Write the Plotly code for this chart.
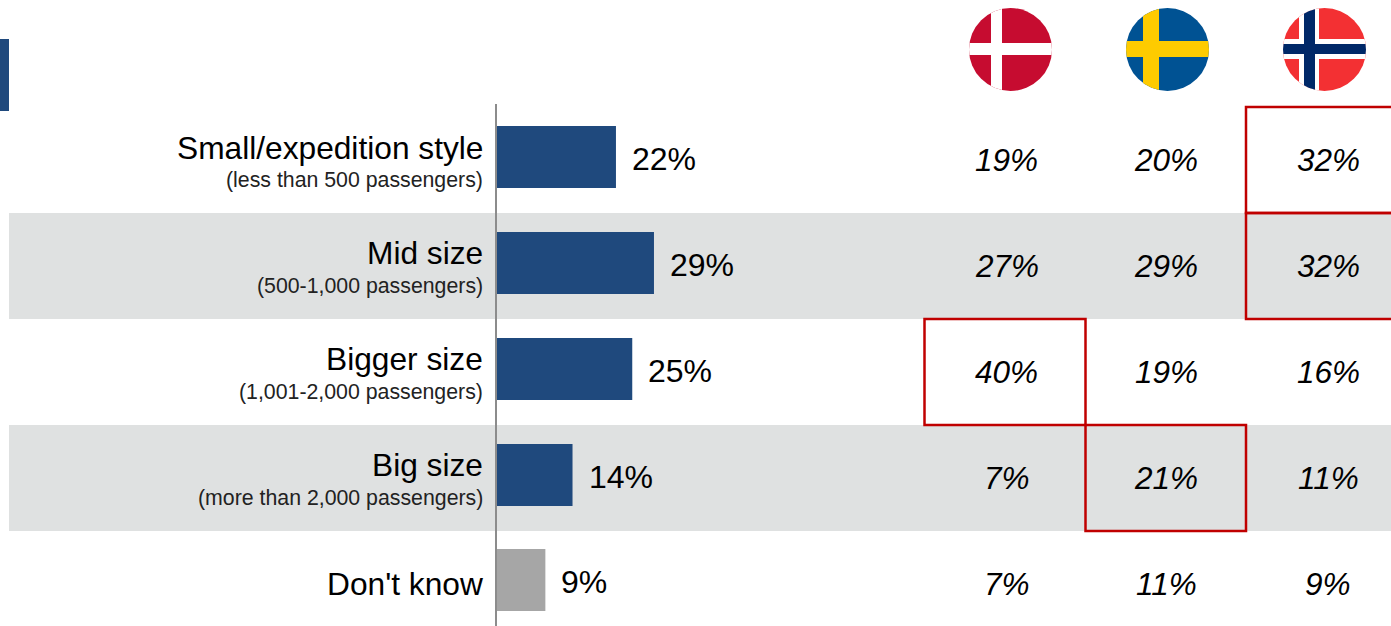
import base64
import plotly.graph_objects as go

W, H = 1391, 626
FONT = "Liberation Sans"

categories = ["Small/expedition style", "Mid size", "Bigger size", "Big size", "Don't know"]
subtitles = ["(less than 500 passengers)", "(500-1,000 passengers)", "(1,001-2,000 passengers)",
             "(more than 2,000 passengers)", ""]
total = [22, 29, 25, 14, 9]
denmark = [19, 27, 40, 7, 7]
sweden = [20, 29, 19, 21, 11]
norway = [32, 32, 16, 11, 9]
bar_colors = ["#1F497D", "#1F497D", "#1F497D", "#1F497D", "#A6A6A6"]

# Pixel geometry of the page
X0, PX_PER_PCT = 496.5, 5.43
ROW_PX, BAR_Y0 = 106, 157
ys = [0, 1, 2, 3, 3.99]


def px(x):
    return x / W


def py(y):
    return 1 - y / H


def flag(body, size=83):
    svg = (f'<svg xmlns="http://www.w3.org/2000/svg" width="{size}" height="{size}" viewBox="0 0 83 83">'
           f'<defs><clipPath id="c"><circle cx="41.5" cy="41.5" r="41.5"/></clipPath></defs>'
           f'<g clip-path="url(#c)">{body}</g></svg>')
    return "data:image/svg+xml;base64," + base64.b64encode(svg.encode()).decode()


def rect(x, y, w, h, c):
    return f'<rect x="{x}" y="{y}" width="{w}" height="{h}" fill="{c}"/>'


dk = flag(rect(0, 0, 83, 83, "#C60C30") + rect(22, 0, 11, 83, "#fff") + rect(0, 35, 83, 12, "#fff"))
se = flag(rect(0, 0, 83, 83, "#005293") + rect(17, 0, 16, 83, "#FECB00") + rect(0, 33, 83, 16, "#FECB00"))
no = flag(rect(0, 0, 83, 83, "#F33033") + rect(16, 0, 20, 83, "#fff") + rect(0, 31, 83, 20, "#fff")
          + rect(21, 0, 11, 83, "#002868") + rect(0, 36, 83, 10, "#002868"))
flags = [(dk, 969), (se, 1126), (no, 1283)]

fig = go.Figure(go.Bar(
    x=total, y=ys, orientation="h", width=62 / ROW_PX,
    marker=dict(color=bar_colors, line=dict(width=0)),
    hoverinfo="skip",
))

shapes = []
# Grey bands
for top in (213, 425):
    shapes.append(dict(type="rect", xref="paper", yref="paper", x0=px(9), x1=1, y0=py(top), y1=py(top + 106),
                       fillcolor="#DFE1E1", line_width=0, layer="below"))
# Left marker
shapes.append(dict(type="rect", xref="paper", yref="paper", x0=0, x1=px(9), y0=py(39), y1=py(111),
                   fillcolor="#1F497D", line_width=0))
# Axis line
shapes.append(dict(type="line", xref="paper", yref="paper", x0=px(496), x1=px(496), y0=py(104), y1=0,
                   line=dict(color="#8C8C8C", width=2)))
# Highlight boxes
col_edges = [(924.5, 1085.5), (1085.5, 1246), (1246, 1396)]
for row, col in [(2, 0), (3, 1), (0, 2), (1, 2)]:
    top = 107 + 106 * row
    l, r = col_edges[col]
    shapes.append(dict(type="rect", xref="paper", yref="paper", x0=px(l), x1=px(r), y0=py(top), y1=py(top + 106),
                       line=dict(color="#C00000", width=2.5), fillcolor="rgba(0,0,0,0)"))

ann = []
label_y = [148, 253, 359, 465, 584]
sub_y = [180, 286, 392, 498, None]
for i, c in enumerate(categories):
    ann.append(dict(text=c, xref="paper", yref="paper", x=px(484.5), y=py(label_y[i]), xanchor="right",
                    yanchor="middle", showarrow=False, font=dict(size=31.7, color="#000", family=FONT)))
    if subtitles[i]:
        ann.append(dict(text=subtitles[i], xref="paper", yref="paper", x=px(485), y=py(sub_y[i]), xanchor="right",
                        yanchor="middle", showarrow=False, font=dict(size=21.3, color="#222", family=FONT)))
    ann.append(dict(text=f"{total[i]}%", x=total[i], y=ys[i], xref="x", yref="y", xanchor="left", yanchor="middle",
                    xshift=14, yshift=-2, showarrow=False, font=dict(size=32, color="#000", family=FONT)))
    for series, cx in ((denmark, 1006.5), (sweden, 1166), (norway, 1328)):
        ann.append(dict(text=f"<i>{series[i]}%</i>", xref="paper", yref="paper", x=px(cx), y=py(160 + 106 * i),
                        xanchor="center", yanchor="middle", showarrow=False,
                        font=dict(size=31.5, color="#000", family=FONT)))

images = [dict(source=s, xref="paper", yref="paper", x=px(x), y=py(8), sizex=83 / W, sizey=83 / H,
               xanchor="left", yanchor="top", sizing="stretch", layer="above") for s, x in flags]

fig.update_layout(
    width=W, height=H, margin=dict(l=0, r=0, t=0, b=0), autosize=False,
    paper_bgcolor="white", plot_bgcolor="rgba(0,0,0,0)", showlegend=False,
    xaxis=dict(range=[-X0 / PX_PER_PCT, (W - X0) / PX_PER_PCT], visible=False, fixedrange=True),
    yaxis=dict(range=[(H - BAR_Y0) / ROW_PX, -BAR_Y0 / ROW_PX], visible=False, fixedrange=True),
    shapes=shapes, annotations=ann, images=images,
)
fig.write_html("out.html", config=dict(displayModeBar=False),
               post_script="document.body.style.margin='0';document.body.style.overflow='hidden';")
